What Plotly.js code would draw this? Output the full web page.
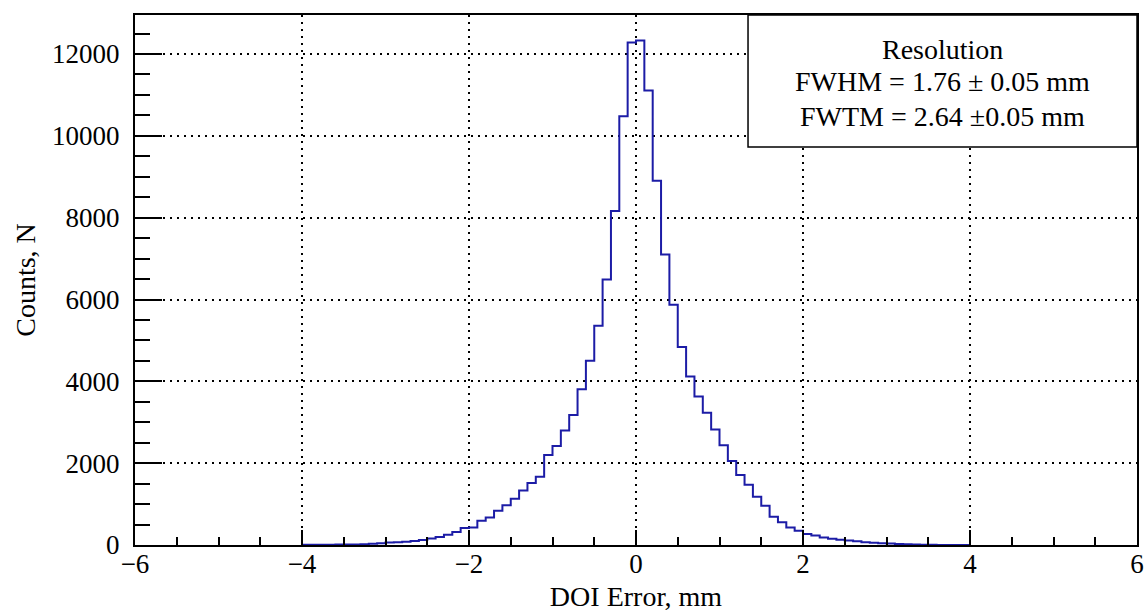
<!DOCTYPE html>
<html>
<head>
<meta charset="utf-8">
<script src="https://cdn.plot.ly/plotly-3.0.1.min.js"></script>
<style>html,body{margin:0;padding:0;background:#fff;}#chart{width:1147px;height:612px;}</style>
</head>
<body>
<div id="chart"></div>
<script>
// Histogram: DOI error, bin width 0.1 mm, first bin starts at -4.0 mm
const binStart = -4.0;
const binWidth = 0.1;
const counts = [
  5, 5, 8, 8, 10, 12, 15, 20, 30, 40,            // -4.0 .. -3.1
  60, 70, 80, 100, 125, 160, 195, 250, 315, 415, // -3.0 .. -2.1
  430, 595, 670, 840, 970, 1130, 1330, 1515, 1670, 2200, // -2.0 .. -1.1
  2420, 2800, 3180, 3805, 4500, 5360, 6490, 8160, 10480, 12280, // -1.0 .. -0.1
  12330, 11110, 8900, 7100, 5870, 4840, 4120, 3630, 3230, 2820, // 0.0 .. 0.9
  2440, 2050, 1710, 1470, 1180, 960, 690, 555, 430, 350, // 1.0 .. 1.9
  270, 235, 185, 155, 130, 110, 90, 70, 55, 45,  // 2.0 .. 2.9
  35, 25, 18, 12, 8, 5, 3, 2, 0, 0               // 3.0 .. 3.9
];
const xTickVals = [-6, -4, -2, 0, 2, 4, 6];
const yTickVals = [0, 2000, 4000, 6000, 8000, 10000, 12000];
const xTitle = "DOI Error, mm";
const yTitle = "Counts, N";
const boxLines = ["Resolution", "FWHM = 1.76 \u00b1 0.05 mm", "FWTM = 2.64 \u00b10.05 mm"];

// step outline built from bin edges
const edges = [];
const stepY = [];
for (let i = 0; i < counts.length; i++) {
  edges.push(binStart + i * binWidth);
  stepY.push(counts[i]);
}
edges.push(binStart + counts.length * binWidth);
stepY.push(counts[counts.length - 1]);

const FONT = "Liberation Serif, Times New Roman, serif";

const trace = {
  type: "scatter",
  mode: "lines",
  x: edges,
  y: stepY,
  line: {shape: "hv", color: "#1c1ca6", width: 2},
  hoverinfo: "x+y"
};

// legend-box text lines (paper y of each line centre)
const lineY = [0.9358, 0.8736, 0.8094];
const boxAnnotations = boxLines.map((t, i) => ({
  xref: "paper", yref: "paper",
  x: 0.8059, y: lineY[i],
  xanchor: "center", yanchor: "middle",
  text: t, showarrow: false,
  font: {family: FONT, size: 28, color: "#000"}
}));

const layout = {
  width: 1147,
  height: 612,
  margin: {l: 135, r: 10, t: 15, b: 67},
  paper_bgcolor: "#ffffff",
  plot_bgcolor: "#ffffff",
  showlegend: false,
  font: {family: FONT, size: 27, color: "#000"},
  xaxis: {
    range: [-6, 6],
    tickvals: xTickVals,
    ticks: "inside",
    ticklen: 15,
    tickwidth: 2,
    tickcolor: "#000",
    minor: {dtick: 0.5, ticks: "inside", ticklen: 8, tickwidth: 2, tickcolor: "#000", showgrid: false},
    showgrid: true,
    gridcolor: "#000",
    gridwidth: 2,
    griddash: "2px,5px",
    zeroline: false,
    showline: true,
    linecolor: "#000",
    linewidth: 2,
    mirror: true,
    ticklabelstandoff: -6,
    tickfont: {family: FONT, size: 27},
    title: {text: xTitle, font: {family: FONT, size: 28}, standoff: 8}
  },
  yaxis: {
    range: [0, 12953],
    tickvals: yTickVals,
    tickformat: "d",
    ticks: "inside",
    ticklen: 27,
    tickwidth: 2,
    tickcolor: "#000",
    minor: {dtick: 500, ticks: "inside", ticklen: 15, tickwidth: 2, tickcolor: "#000", showgrid: false},
    showgrid: true,
    gridcolor: "#000",
    gridwidth: 2,
    griddash: "2px,5px",
    zeroline: false,
    showline: true,
    linecolor: "#000",
    linewidth: 2,
    mirror: true,
    ticklabelstandoff: 8,
    tickfont: {family: FONT, size: 27},
    title: {text: yTitle, font: {family: FONT, size: 28}, standoff: 8}
  },
  shapes: [{
    type: "rect", xref: "paper", yref: "paper",
    x0: 0.6118, x1: 1.0, y0: 0.751, y1: 1.0,
    line: {color: "#000", width: 1.5},
    fillcolor: "#ffffff",
    layer: "above"
  }],
  annotations: boxAnnotations
};

Plotly.newPlot("chart", [trace], layout, {displayModeBar: false, staticPlot: true});
</script>
</body>
</html>
